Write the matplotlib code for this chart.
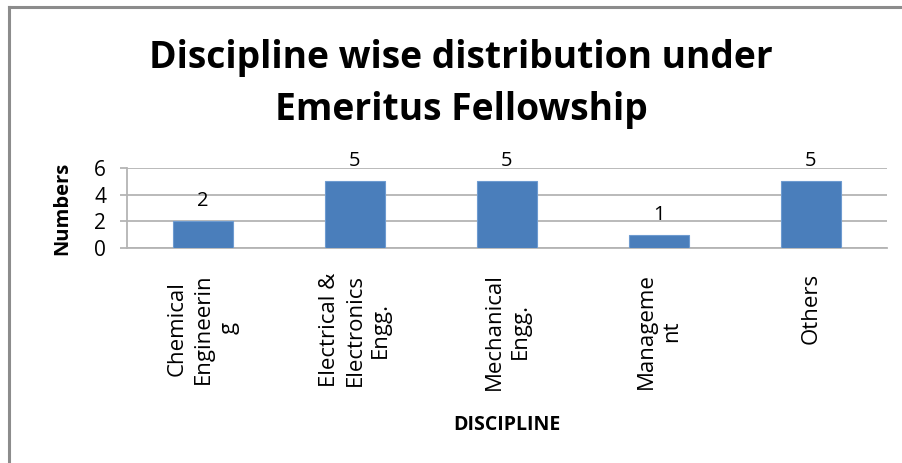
import matplotlib.pyplot as plt
from matplotlib.lines import Line2D

# data
disciplines = ["Chemical\nEngineerin\ng", "Electrical &\nElectronics\nEngg.",
               "Mechanical\nEngg.", "Manageme\nnt", "Others"]
numbers = [2, 5, 5, 1, 5]

plt.rcParams['font.family'] = ['Open Sans', 'DejaVu Sans']

fig = plt.figure(figsize=(9.03, 4.63), dpi=100)
ax = fig.add_axes([127 / 903, 1 - 248 / 463, 760 / 903, 80 / 463])

x = range(len(disciplines))
bars = ax.bar(x, numbers, width=0.39, color='#4a7ebb', edgecolor='#6e9bd0',
              linewidth=0.8, zorder=3)

for xi, v in zip(x, numbers):
    ax.text(xi, v + 0.75, str(v), ha='center', va='bottom', fontsize=14.5)

ax.set_xlim(-0.5, len(disciplines) - 0.5)
ax.set_ylim(0, 6)
ax.set_yticks([0, 2, 4, 6])
ax.yaxis.grid(True, color='#b4b4b4', linewidth=1.3, zorder=0)
ax.set_xticks(list(x))
ax.set_xticklabels(disciplines, rotation=90, fontsize=16, linespacing=1.3,
                   ha='center', va='top')
ax.tick_params(axis='x', length=0, pad=18)
ax.tick_params(axis='y', length=5, color='#b4b4b4', width=1.3, labelsize=15, pad=10)

for side in ['top', 'right']:
    ax.spines[side].set_visible(False)
ax.spines['left'].set_color('#b4b4b4')
ax.spines['left'].set_linewidth(1.3)
ax.spines['bottom'].set_color('#b4b4b4')
ax.spines['bottom'].set_linewidth(1.3)

ax.set_ylabel('Numbers', fontsize=14.5, fontweight='bold', labelpad=16)
fig.text(507 / 903, 1 - 425 / 463, 'DISCIPLINE', fontsize=14, fontweight='bold',
         ha='center', va='center')

fig.text(461 / 903, 1 - 84 / 463, 'Discipline wise distribution under\nEmeritus Fellowship',
         fontsize=26.8, fontweight='bold', ha='center', va='center', linespacing=1.5)

# frame edges (top and left only)
fig.add_artist(Line2D([9.5 / 903, 9.5 / 903], [0, 1 - 7 / 463], transform=fig.transFigure,
                      color='#8c8c8c', linewidth=2.2))
fig.add_artist(Line2D([9.5 / 903, 1], [1 - 7 / 463, 1 - 7 / 463], transform=fig.transFigure,
                      color='#8c8c8c', linewidth=2.2))

plt.savefig('out.png', dpi=100)
